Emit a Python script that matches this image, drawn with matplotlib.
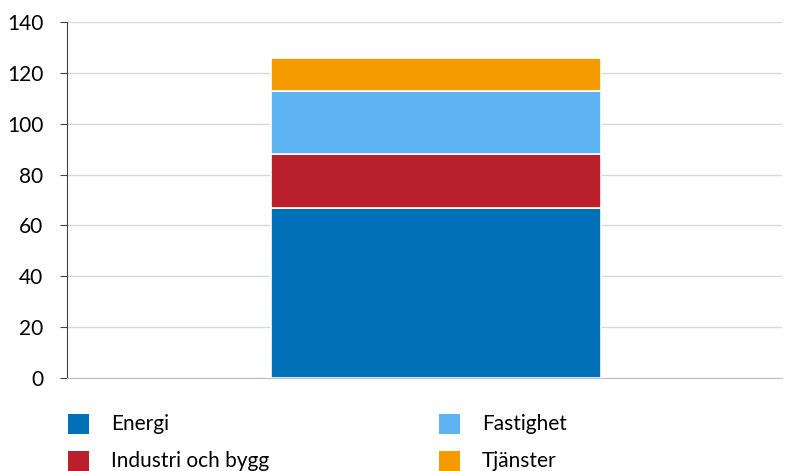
import matplotlib
matplotlib.use("Agg")
import matplotlib.pyplot as plt
from matplotlib.patches import Rectangle

plt.rcParams['font.family'] = ['Lato', 'DejaVu Sans']

categories = ["Energi", "Industri och bygg", "Fastighet", "Tjänster"]
values = [67, 21, 25, 13]
colors = ["#0070B8", "#BA1F2C", "#5EB3F3", "#F59B00"]
yticks = [0, 20, 40, 60, 80, 100, 120, 140]

W, H = 797, 471
fig = plt.figure(figsize=(W/100, H/100), dpi=100)
ax = fig.add_axes([67/W, 1-378/H, (782-67)/W, (378-22)/H])

bottom = 0
for cat, v, c in zip(categories, values, colors):
    ax.bar(0, v, width=1.0, bottom=bottom, color=c, edgecolor="white", linewidth=1.2, zorder=3)
    bottom += v

ax.set_xlim(-1.118, 1.048)
ax.set_ylim(0, 140)
ax.set_yticks(yticks)
ax.set_yticklabels([str(t) for t in yticks], fontsize=15)
ax.set_xticks([])
ax.yaxis.grid(True, color="#D9D9D9", linewidth=1.0, zorder=0)
for s in ["top", "right"]:
    ax.spines[s].set_visible(False)
ax.spines["left"].set_color("#404040")
ax.spines["bottom"].set_color("#BFBFBF")
ax.tick_params(axis="y", length=5, color="#404040", pad=12, direction="out")

# legend (manual, 2 columns, column-major order)
col_x = [68, 439]
row_y = [424, 461]
for i, (cat, c) in enumerate(zip(categories, colors)):
    col, row = divmod(i, 2)
    x0 = col_x[col]
    yc = row_y[row]
    fig.patches.append(Rectangle((x0/W, 1-(yc+10)/H), 21/W, 20/H,
                                 transform=fig.transFigure, facecolor=c, edgecolor="none"))
    fig.text((x0+43)/W, 1-yc/H, cat, fontsize=15, va="center", ha="left")

fig.savefig("out.png", dpi=100)
